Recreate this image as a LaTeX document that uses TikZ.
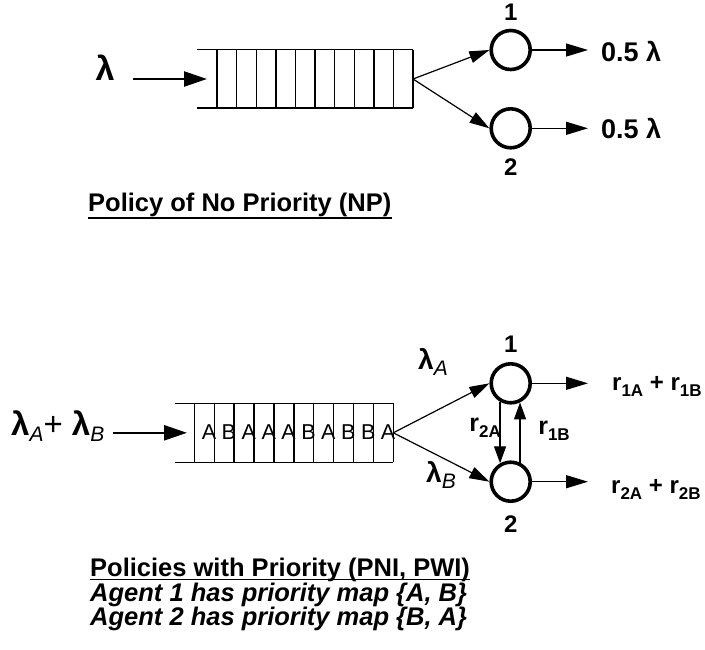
\documentclass[tikz,border=0pt]{standalone}
\usepackage{fontspec}
\setmainfont{Liberation Sans}
\usetikzlibrary{arrows.meta}
% subscripts: italic (arrival rates) and bold upright (routing rates)
\newcommand\isub[1]{\raisebox{-6pt}{\fontsize{21}{21}\selectfont\mdseries\itshape #1}}
\newcommand\nsub[1]{\raisebox{-6pt}{\fontsize{17}{17}\selectfont\bfseries #1}}
\begin{document}
\begin{tikzpicture}[x=1pt,y=-1pt,
  server/.style={circle,draw,line width=3.6pt,minimum size=39pt,inner sep=0pt},
  qline/.style={line width=1.4pt},
  flow/.style={line width=1.2pt,-{Triangle[length=20pt,width=12pt]}},
  outflow/.style={line width=1.4pt,-{Triangle[length=22pt,width=13pt]}},
  feed/.style={line width=2.4pt,-{Triangle[length=23pt,width=15pt]}},
  swap/.style={line width=1.4pt,-{Triangle[length=17pt,width=12pt]}},
  num/.style={font=\fontsize{24}{24}\selectfont\bfseries,inner sep=0pt},
  rate/.style={font=\fontsize{27}{27}\selectfont\bfseries,inner sep=0pt,anchor=base west},
  rrate/.style={font=\fontsize{24}{24}\selectfont\bfseries,inner sep=0pt,anchor=base west},
  caption/.style={font=\fontsize{25.5}{25.5}\selectfont\bfseries,inner sep=0pt,anchor=base west},
  note/.style={font=\fontsize{25.5}{25.5}\selectfont\bfseries\itshape,inner sep=0pt,anchor=base west},
  qletter/.style={font=\fontsize{21.5}{21.5}\selectfont,inner sep=0pt},
  uline/.style={line width=1.8pt}
]
\useasboundingbox (0,0) rectangle (705,649);

% ---------- no priority: one queue, two servers ----------
\node[font=\fontsize{34}{34}\selectfont\bfseries,inner sep=0pt] (lam) at (105,68) {λ};
\coordinate (q1in) at (207,79);
\coordinate (q1out) at (413,79);
\draw[qline] (197,49.5) -- (413,49.5);
\draw[qline] (197,108) -- (413,108);
\foreach \k in {0,...,10}
  \draw[qline] ({217+19.6*\k},49.5) -- ({217+19.6*\k},108);
\draw[feed] (133,79) -- (q1in);

\node[server] (s1) at (510.7,50) {};
\node[server] (s2) at (510.7,128.3) {};
\node[num,anchor=base] (n1) at (510.7,20) {1};
\node[num,anchor=base] (n2) at (510.7,175) {2};
\draw[flow] (q1out) -- (s1.west);
\draw[flow] (q1out) -- (s2.west);

\coordinate (o1) at (588,50);
\coordinate (o2) at (588,128.3);
\draw[outflow] (s1.east) -- (o1);
\draw[outflow] (s2.east) -- (o2);
\node[rate] (out1) at (601,61.7) {0.5 λ};
\node[rate] (out2) at (601,138.3) {0.5 λ};

\node[caption] (cap1) at (88,211.7) {Policy of No Priority (NP)};
\draw[uline] ([yshift=-6pt]cap1.base west) -- ([yshift=-6pt]cap1.base east);

% ---------- priority: typed queue, two servers exchanging jobs ----------
\node[font=\fontsize{33}{33}\selectfont\bfseries,inner sep=0pt,anchor=base west] (lamAB) at (11,435)
  {λ\isub{A}{\mdseries+} λ\isub{B}};
\coordinate (q2in) at (187,432.8);
\coordinate (q2out) at (393.3,432.8);
\draw[qline] (175,403.3) -- (393.3,403.3);
\draw[qline] (175,462.3) -- (393.3,462.3);
\foreach \k in {0,...,10}
  \draw[qline] ({194.3+19.9*\k},403.3) -- ({194.3+19.9*\k},462.3);
\foreach \L [count=\k from 0] in {A,B,A,A,A,B,A,B,B,A}
  \node[qletter] (job\k) at ({209+19.9*\k},432.5) {\L};
\draw[feed] (113,432.8) -- (q2in);

\node[server] (p1) at (510.7,383.3) {};
\node[server] (p2) at (510.7,481.7) {};
\node[num,anchor=base] (m1) at (510.7,352) {1};
\node[num,anchor=base] (m2) at (510.7,532) {2};
\draw[flow] (q2out) -- (p1.west);
\draw[flow] (q2out) -- (p2.west);
\node[font=\fontsize{28}{28}\selectfont\bfseries,inner sep=0pt] (lamA) at (433,362) {λ\isub{A}};
\node[font=\fontsize{28}{28}\selectfont\bfseries,inner sep=0pt] (lamB) at (441,475) {λ\isub{B}};

\draw[swap] (p1.240) -- (p2.120);
\draw[swap] (p2.64) -- (p1.-64);
\node[font=\fontsize{25}{25}\selectfont\bfseries,inner sep=0pt,anchor=east] (r2A) at (501,428) {r\nsub{2A}};
\node[font=\fontsize{25}{25}\selectfont\bfseries,inner sep=0pt] (r1B) at (554,431) {r\nsub{1B}};

\coordinate (o3) at (588,383.3);
\coordinate (o4) at (588,481.7);
\draw[outflow] (p1.east) -- (o3);
\draw[outflow] (p2.east) -- (o4);
\node[rrate] (out3) at (612,390) {r\nsub{1A} + r\nsub{1B}};
\node[rrate] (out4) at (611,493) {r\nsub{2A} + r\nsub{2B}};

\node[caption] (cap2) at (90,576) {Policies with Priority (PNI, PWI)};
\draw[uline] ([yshift=-3.5pt]cap2.base west) -- ([yshift=-3.5pt]cap2.base east);
\node[note] (ag1) at (90,601) {Agent 1 has priority map \{A, B\}};
\node[note] (ag2) at (90,625) {Agent 2 has priority map \{B, A\}};
\end{tikzpicture}
\end{document}
